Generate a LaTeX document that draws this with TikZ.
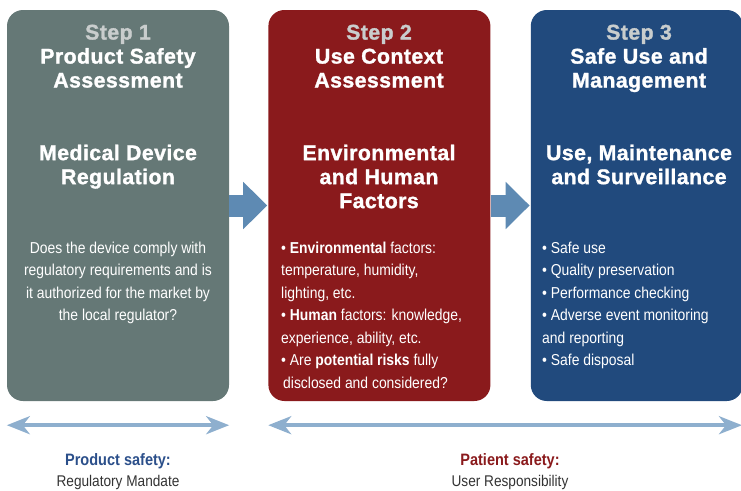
\documentclass[tikz,border=0pt]{standalone}
\usepackage{fontspec}
\setmainfont{Liberation Sans}
\newfontfamily\narrowfont[FakeStretch=0.88]{Liberation Sans}
\newfontfamily\heavyfont[LetterSpace=2, BoldFeatures={FakeBold=1.3}]{Liberation Sans}
\usepackage{tikz}
\usetikzlibrary{arrows.meta, positioning}
\usepackage{xcolor}
\definecolor{stepgray}{HTML}{657876}
\definecolor{stepred}{HTML}{8A1A1C}
\definecolor{stepblue}{HTML}{214A7D}
\definecolor{flowblue}{HTML}{5E8AB3}
\definecolor{spanblue}{HTML}{8EAFCE}
\definecolor{steplight}{HTML}{C9CDCD}
\definecolor{prodblue}{HTML}{2B4F8A}
\definecolor{captiongray}{HTML}{333333}

\begin{document}
\begin{tikzpicture}[
        x=1pt, y=-1pt,
        stepbox/.style={
          rectangle,
          rounded corners=16pt,
          minimum width=222pt,
          minimum height=391pt,
          inner sep=0pt
        },
        heading/.style={
          anchor=north,
          align=center,
          inner sep=0pt,
          text=white,
          font=\heavyfont\fontsize{21.3}{24}\selectfont\bfseries
        },
        bodytext/.style={
          anchor=north,
          inner sep=0pt,
          text=white,
          font=\narrowfont\fontsize{15.8}{22.5}\selectfont
        },
        flowarrow/.style={
          draw=flowblue,
          line width=22pt,
          -{Triangle[length=24pt, width=46pt]},
          shorten >=1pt
        },
        spanarrow/.style={
          draw=spanblue,
          line width=4pt,
          {Stealth[length=23pt, width=18pt, inset=7pt]}-{Stealth[length=23pt, width=18pt, inset=7pt]}
        },
        caption/.style={
          inner sep=0pt,
          font=\narrowfont\fontsize{15.5}{20}\selectfont
        }
      ]

      \useasboundingbox (0,0) rectangle (741,490);

      % Steps
      \node[stepbox, fill=stepgray] (box1) at (118,205.5) {};
      \node[stepbox, fill=stepred, right=39pt of box1] (box2) {};
      \node[stepbox, fill=stepblue, minimum width=212pt, right=40pt of box2] (box3) {};

      % Headings
      \node[heading] (head1) at (118,24.5) {\textcolor{steplight}{Step 1}\\Product Safety\\Assessment};
      \node[heading] (head2) at (379,24.5) {\textcolor{steplight}{Step 2}\\Use Context\\Assessment};
      \node[heading] (head3) at (639,24.5) {\textcolor{steplight}{Step 3}\\Safe Use and\\Management};

      \node[heading] (topic1) at (118,144.5) {Medical Device\\Regulation};
      \node[heading] (topic2) at (379,144.5) {Environmental\\and Human\\Factors};
      \node[heading] (topic3) at (639,144.5) {Use, Maintenance\\and Surveillance};

      % Details
      \node[bodytext, align=center] (text1) at (118,241.5) {Does the device comply with\\regulatory requirements and is\\it authorized for the market by\\the local regulator?};
      \node[bodytext, anchor=north west, align=left] (text2) at (281,241.5) {• \textbf{Environmental} factors:\\temperature, humidity,\\lighting, etc.\\• \textbf{Human} factors: knowledge,\\experience, ability, etc.\\• Are \textbf{potential risks} fully\\\hspace{2pt}disclosed and considered?};
      \node[bodytext, anchor=north west, align=left] (text3) at (542,241.5) {• Safe use\\• Quality preservation\\• Performance checking\\• Adverse event monitoring\\and reporting\\• Safe disposal};

      % Flow
      \draw[flowarrow] (box1.east) -- (box2.west);
      \draw[flowarrow] (box2.east) -- (box3.west);

      % Responsibility spans
      \coordinate (prodL) at ([yshift=-24pt]box1.south west);
      \coordinate (prodR) at ([yshift=-24pt]box1.south east);
      \coordinate (patL) at ([yshift=-24pt]box2.south west);
      \coordinate (patR) at ([yshift=-24pt, xshift=-1pt]box3.south east);
      \draw[spanarrow] (prodL) -- (prodR);
      \draw[spanarrow] (patL) -- (patR);

      \node[caption, text=prodblue, font=\narrowfont\fontsize{16.5}{20}\selectfont\bfseries] (prodhead) at (118,461) {Product safety:};
      \node[caption, text=captiongray] (prodsub) at (118,482) {Regulatory Mandate};
      \node[caption, text=stepred, font=\narrowfont\fontsize{16.5}{20}\selectfont\bfseries] (pathead) at (510,461) {Patient safety:};
      \node[caption, text=captiongray] (patsub) at (510,482) {User Responsibility};

    \end{tikzpicture}
\end{document}
